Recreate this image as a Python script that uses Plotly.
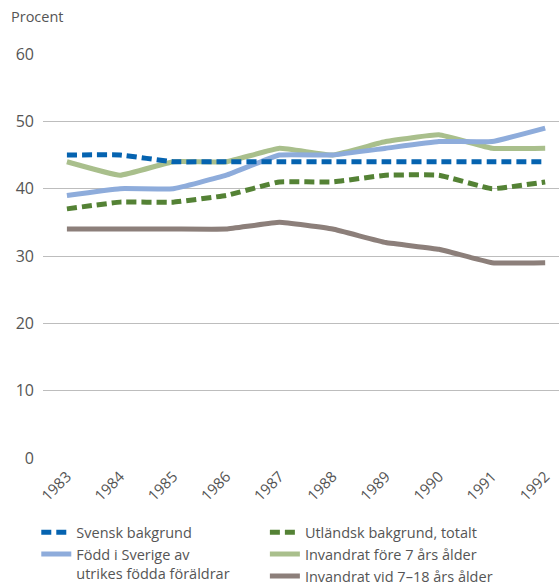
import plotly.graph_objects as go

years = ["1983", "1984", "1985", "1986", "1987", "1988", "1989", "1990", "1991", "1992"]

svensk = [45, 45, 44, 44, 44, 44, 44, 44, 44, 44]
fodd_sverige = [39, 40, 40, 42, 45, 45, 46, 47, 47, 49]
utlandsk = [37, 38, 38, 39, 41, 41, 42, 42, 40, 41]
fore_7 = [44, 42, 44, 44, 46, 45, 47, 48, 46, 46]
vid_7_18 = [34, 34, 34, 34, 35, 34, 32, 31, 29, 29]

y_ticks = [0, 10, 20, 30, 40, 50, 60]

FONT = "Open Sans"
TEXT = "#555555"

series = [
    ("Svensk bakgrund", svensk, "#0563b0", "10px,5px", "legend", 1),
    ("Född i Sverige av<br>utrikes födda föräldrar", fodd_sverige, "#8eacdb", "solid", "legend", 2),
    ("Utländsk bakgrund, totalt", utlandsk, "#548235", "10px,5px", "legend2", 3),
    ("Invandrat före 7 års ålder", fore_7, "#a9bf8c", "solid", "legend2", 4),
    ("Invandrat vid 7–18 års ålder", vid_7_18, "#8c7f7a", "solid", "legend2", 5),
]

fig = go.Figure()
# draw order: solid lines underneath the dashed ones
draw_order = [4, 3, 1, 2, 0]
for i in draw_order:
    name, vals, color, dash, leg, rank = series[i]
    fig.add_trace(go.Scatter(
        x=years, y=vals, name=name, mode="lines",
        line=dict(color=color, width=5, dash=dash, shape="spline", smoothing=0.3),
        legend=leg, legendrank=rank,
    ))

legend_common = dict(yref="container", y=0.119, xanchor="left", yanchor="top",
                     font=dict(size=14.5, color=TEXT), valign="top",
                     bgcolor="rgba(0,0,0,0)", tracegroupgap=0)

fig.update_layout(
    width=559, height=586,
    margin=dict(l=43, r=0, t=54, b=128),
    plot_bgcolor="white", paper_bgcolor="white",
    font=dict(family=FONT, color=TEXT, size=14),
    showlegend=True,
    legend=dict(x=-0.013, **legend_common),
    legend2=dict(x=0.43, **legend_common),
    xaxis=dict(range=[-0.45, 9.26], tickangle=-45, showgrid=False,
               showline=False, zeroline=False, ticks="", automargin=False,
               ticklabelstandoff=6,
               tickfont=dict(size=15, color=TEXT)),
    yaxis=dict(range=[0, 60], tickvals=y_ticks, showgrid=True,
               gridcolor="#bdbdbd", gridwidth=1, zeroline=False,
               showline=False, ticks="", ticklabelstandoff=8, automargin=False,
               tickfont=dict(size=16, color=TEXT)),
    annotations=[dict(text="Procent", xref="paper", yref="paper",
                      x=-0.065, y=1.0, yshift=26, xanchor="left", yanchor="bottom",
                      showarrow=False, font=dict(size=14.5, color=TEXT))],
)

fig.write_html("out.html")
